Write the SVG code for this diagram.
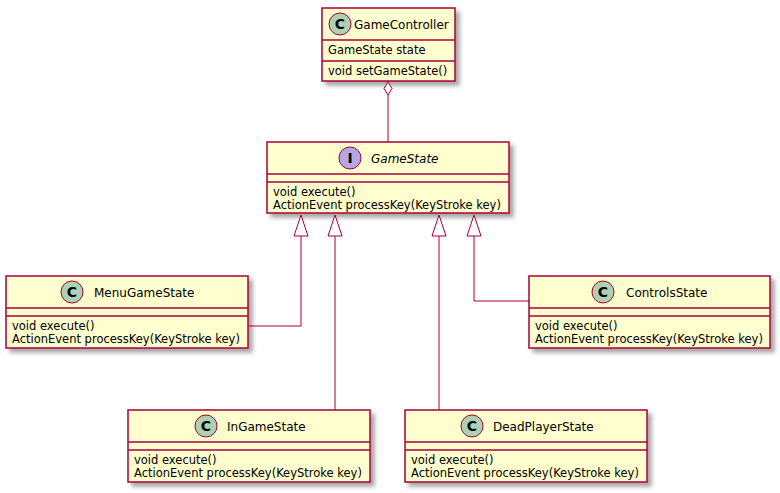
<svg xmlns="http://www.w3.org/2000/svg" width="780" height="493" viewBox="0 0 780 493">
<defs>
<filter id="sh" x="-10%" y="-10%" width="130%" height="140%">
<feGaussianBlur in="SourceAlpha" stdDeviation="2" result="b"/>
<feOffset in="b" dx="4" dy="4" result="o"/>
<feComponentTransfer in="o" result="c"><feFuncA type="linear" slope="0.35"/></feComponentTransfer>
<feMerge><feMergeNode in="c"/><feMergeNode in="SourceGraphic"/></feMerge>
</filter>
</defs>
<style>
.box{fill:#FEFECE;stroke:#A80036;stroke-width:1.5}
.sep{stroke:#A80036;stroke-width:1.5}
.cc{fill:#ADD1B2;stroke:#A80036;stroke-width:1}
.ci{fill:#B4A7E5;stroke:#A80036;stroke-width:1}
.lt{font-family:"DejaVu Sans",sans-serif;font-size:14px;font-weight:bold;fill:#000;text-anchor:middle}
.nm{font-family:"DejaVu Sans",sans-serif;font-size:12px;fill:#000}
.mb{font-family:"DejaVu Sans",sans-serif;font-size:11.5px;fill:#000}
.ln{fill:none;stroke:#A80036;stroke-width:1}
.tri{fill:#FFFFFF;stroke:#A80036;stroke-width:1}
</style>

<g id="GameController">
<rect class="box" x="322" y="8" width="133" height="73" filter="url(#sh)"/>
<circle class="cc" cx="340" cy="24" r="11"/>
<text class="lt" x="340" y="29">C</text>
<text class="nm" x="354" y="28.5">GameController</text>
<line class="sep" x1="322" y1="40" x2="455" y2="40"/>
<text class="mb" x="328" y="53.5">GameState state</text>
<line class="sep" x1="322" y1="61" x2="455" y2="61"/>
<text class="mb" x="328" y="74.5">void setGameState()</text>
</g>

<g id="GameState">
<rect class="box" x="267" y="142" width="242" height="71" filter="url(#sh)"/>
<circle class="ci" cx="350" cy="158" r="11"/>
<text class="lt" x="350" y="163">I</text>
<text class="nm" x="371" y="162.5" font-style="italic">GameState</text>
<line class="sep" x1="267" y1="174" x2="509" y2="174"/>
<line class="sep" x1="267" y1="182" x2="509" y2="182"/>
<text class="mb" x="273" y="196">void execute()</text>
<text class="mb" x="273" y="209">ActionEvent processKey(KeyStroke key)</text>
</g>

<g id="MenuGameState">
<rect class="box" x="6" y="276" width="242" height="72" filter="url(#sh)"/>
<circle class="cc" cx="72" cy="292" r="11"/>
<text class="lt" x="72" y="297">C</text>
<text class="nm" x="94" y="296.5">MenuGameState</text>
<line class="sep" x1="6" y1="308" x2="248" y2="308"/>
<line class="sep" x1="6" y1="316" x2="248" y2="316"/>
<text class="mb" x="12" y="330">void execute()</text>
<text class="mb" x="12" y="343">ActionEvent processKey(KeyStroke key)</text>
</g>

<g id="ControlsState">
<rect class="box" x="529" y="276" width="241" height="72" filter="url(#sh)"/>
<circle class="cc" cx="603" cy="292" r="11"/>
<text class="lt" x="603" y="297">C</text>
<text class="nm" x="626" y="296.5">ControlsState</text>
<line class="sep" x1="529" y1="308" x2="770" y2="308"/>
<line class="sep" x1="529" y1="316" x2="770" y2="316"/>
<text class="mb" x="535" y="330">void execute()</text>
<text class="mb" x="535" y="343">ActionEvent processKey(KeyStroke key)</text>
</g>

<g id="InGameState">
<rect class="box" x="128" y="410" width="242" height="72" filter="url(#sh)"/>
<circle class="cc" cx="206" cy="426" r="11"/>
<text class="lt" x="206" y="431">C</text>
<text class="nm" x="227" y="430.5">InGameState</text>
<line class="sep" x1="128" y1="442" x2="370" y2="442"/>
<line class="sep" x1="128" y1="450" x2="370" y2="450"/>
<text class="mb" x="134" y="464">void execute()</text>
<text class="mb" x="134" y="477">ActionEvent processKey(KeyStroke key)</text>
</g>

<g id="DeadPlayerState">
<rect class="box" x="405" y="410" width="242" height="72" filter="url(#sh)"/>
<circle class="cc" cx="472" cy="426" r="11"/>
<text class="lt" x="472" y="431">C</text>
<text class="nm" x="493" y="430.5">DeadPlayerState</text>
<line class="sep" x1="405" y1="442" x2="647" y2="442"/>
<line class="sep" x1="405" y1="450" x2="647" y2="450"/>
<text class="mb" x="411" y="464">void execute()</text>
<text class="mb" x="411" y="477">ActionEvent processKey(KeyStroke key)</text>
</g>

<g id="connectors">
<path class="ln" d="M388,95 L388,142"/>
<path class="tri" d="M388,82 L384,88.5 L388,95 L392,88.5 Z"/>

<path class="ln" d="M248,326 L301,326 L301,236"/>
<path class="tri" d="M301,215 L294,236 L308,236 Z"/>

<path class="ln" d="M335,410 L335,236"/>
<path class="tri" d="M335,215 L328,236 L342,236 Z"/>

<path class="ln" d="M439,410 L439,236"/>
<path class="tri" d="M439,215 L432,236 L446,236 Z"/>

<path class="ln" d="M529,301 L474,301 L474,236"/>
<path class="tri" d="M474,215 L467,236 L481,236 Z"/>
</g>
</svg>
